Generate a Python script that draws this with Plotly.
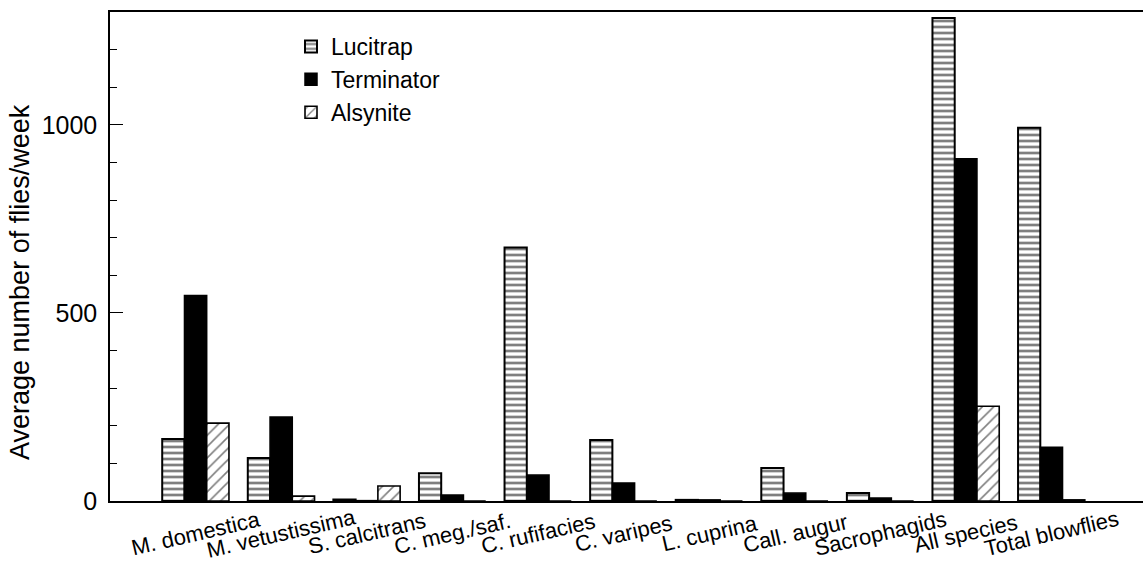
import plotly.graph_objects as go

categories = ["M. domestica", "M. vetustissima", "S. calcitrans", "C. meg./saf.",
              "C. rufifacies", "C. varipes", "L. cuprina", "Call. augur",
              "Sacrophagids", "All species", "Total blowflies"]
lucitrap = [165, 114, 4, 74, 674, 162, 3, 88, 21, 1284, 992]
terminator = [546, 223, 1, 16, 69, 48, 3, 21, 8, 910, 143]
alsynite = [207, 13, 40, 0, 0, 0, 0, 0, 0, 252, 3]

FONT = "Liberation Sans, Arial, sans-serif"
xs = list(range(len(categories)))

fig = go.Figure()
fig.add_trace(go.Bar(
    x=xs, y=lucitrap, name="Lucitrap", legendgroup="a",
    marker=dict(color="white", line=dict(color="black", width=2),
                pattern=dict(shape="-", size=6, solidity=0.45, fgcolor="black", bgcolor="white",
                             fillmode="overlay"))))
fig.add_trace(go.Bar(
    x=xs, y=terminator, name="Terminator", legendgroup="b",
    marker=dict(color="black", line=dict(color="black", width=1.5))))
fig.add_trace(go.Bar(
    x=xs, y=alsynite, name="Alsynite", legendgroup="c",
    marker=dict(color="white", line=dict(color="black", width=1.6),
                pattern=dict(shape="/", size=8, solidity=0.2, fgcolor="black", bgcolor="white",
                             fillmode="overlay"))))

for i, c in enumerate(categories):
    fig.add_annotation(x=i, y=0, xref="x", yref="paper", yshift=-32, text=c,
                       textangle=-13, showarrow=False, xanchor="center", yanchor="middle",
                       font=dict(family=FONT, size=22, color="black"))

fig.add_annotation(x=0, xref="paper", xshift=-90, y=1 - (282 - 12) / 489, yref="paper",
                   text="Average number of flies/week", textangle=-90, showarrow=False,
                   xanchor="center", yanchor="middle",
                   font=dict(family=FONT, size=27, color="black"))

fig.update_layout(
    width=1143, height=563,
    margin=dict(l=110, r=0, t=12, b=62),
    paper_bgcolor="white", plot_bgcolor="white",
    barmode="group", bargap=0.22, bargroupgap=0,
    font=dict(family=FONT, size=23, color="black"),
    showlegend=True,
    legend=dict(x=(291 - 110) / 1033, y=1 - (25 - 12) / 489, xanchor="left", yanchor="top",
                bgcolor="rgba(0,0,0,0)", font=dict(family=FONT, size=23, color="black"),
                tracegroupgap=1, traceorder="normal"),
    xaxis=dict(range=[-1.0, 11.07], showticklabels=False, ticks="", showgrid=False,
               zeroline=False, showline=True, linecolor="black", linewidth=1.5, mirror=True),
    yaxis=dict(range=[0, 1300], tickvals=[0, 500, 1000], ticks="inside", ticklen=13,
               tickwidth=1.2, tickcolor="black", showgrid=False, zeroline=False,
               showline=True, linecolor="black", linewidth=1.5, ticklabelstandoff=6,
               tickfont=dict(family=FONT, size=25, color="black"),
               minor=dict(dtick=100, ticks="inside", ticklen=7, tickwidth=1.2, tickcolor="black")),
)

fig.write_html("out.html", config={"displayModeBar": False},
               post_script="document.body.style.margin='0px';document.body.style.overflow='hidden';")
